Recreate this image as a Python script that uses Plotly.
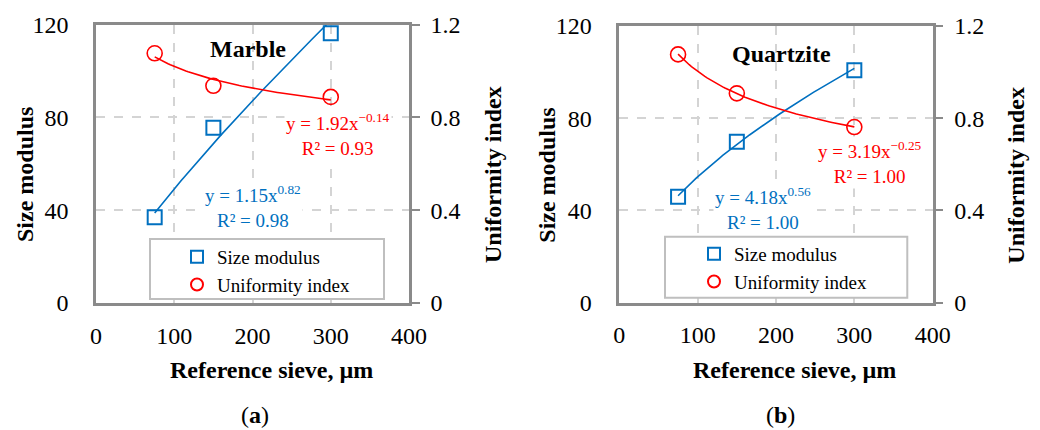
import numpy as np
import plotly.graph_objects as go

# ---------------- data ----------------
sieve = [75, 150, 300]
marble_size_modulus = [37.0, 75.5, 116.2]
marble_uniformity = [1.076, 0.936, 0.888]
quartz_size_modulus = [46.0, 69.8, 100.8]
quartz_uniformity = [1.077, 0.908, 0.762]

x_ticks = [0, 100, 200, 300, 400]
left_ticks = [0, 40, 80, 120]
right_ticks = [0, 0.4, 0.8, 1.2]

panel_titles = ["Marble", "Quartzite"]
panel_labels = ["(<b>a</b>)", "(<b>b</b>)"]
eq_marble_size = "y = 1.15x<sup>0.82</sup><br>R² = 0.98"
eq_marble_unif = "y = 1.92x<sup>−0.14</sup><br>R² = 0.93"
eq_quartz_size = "y = 4.18x<sup>0.56</sup><br>R² = 1.00"
eq_quartz_unif = "y = 3.19x<sup>−0.25</sup><br>R² = 1.00"

BLUE = "#0070C0"
RED = "#FF0000"
FRAME = "#8a8a8a"
GRID = "#d4d4d4"
FONT = "Liberation Serif"


def power_fit(x, y):
    lx, ly = np.log(x), np.log(y)
    b, a = np.polyfit(lx, ly, 1)
    xs = np.linspace(min(x), max(x), 80)
    return xs, np.exp(a) * xs ** b


fig = go.Figure()

panels = [
    dict(xa="x", ya="y", ya2="y2", sm=marble_size_modulus, ui=marble_uniformity, leg="legend"),
    dict(xa="x2", ya="y3", ya2="y4", sm=quartz_size_modulus, ui=quartz_uniformity, leg="legend2"),
]

for p in panels:
    xs, ys = power_fit(sieve, p["sm"])
    fig.add_trace(go.Scatter(x=xs, y=ys, mode="lines", line=dict(color=BLUE, width=1.6),
                             xaxis=p["xa"], yaxis=p["ya"], showlegend=False, hoverinfo="skip"))
    xs, ys = power_fit(sieve, p["ui"])
    fig.add_trace(go.Scatter(x=xs, y=ys, mode="lines", line=dict(color=RED, width=1.6),
                             xaxis=p["xa"], yaxis=p["ya2"], showlegend=False, hoverinfo="skip"))
    fig.add_trace(go.Scatter(x=sieve, y=p["sm"], mode="markers", name="Size modulus",
                             marker=dict(symbol="square-open", size=14, color=BLUE, line=dict(width=2, color=BLUE)),
                             xaxis=p["xa"], yaxis=p["ya"], legend=p["leg"]))
    fig.add_trace(go.Scatter(x=sieve, y=p["ui"], mode="markers", name="Uniformity index",
                             marker=dict(symbol="circle-open", size=15, color=RED, line=dict(width=1.6, color=RED)),
                             xaxis=p["xa"], yaxis=p["ya2"], legend=p["leg"]))

tickfont = dict(family=FONT, size=24, color="black")

def xaxis_cfg(domain, anchor):
    return dict(domain=domain, anchor=anchor, range=[0, 400], tickvals=x_ticks,
                showgrid=True, gridcolor=GRID, griddash="dash", gridwidth=1.5,
                zeroline=False, showline=True, linecolor=FRAME, linewidth=2.5, mirror=True,
                ticks="", tickfont=tickfont, ticklabelstandoff=9, fixedrange=True, automargin=False)

def yaxis_cfg(domain, anchor):
    return dict(domain=domain, anchor=anchor, range=[0, 120], tickvals=left_ticks,
                showgrid=True, gridcolor=GRID, griddash="dash", gridwidth=1.5,
                zeroline=False, showline=True, linecolor=FRAME, linewidth=2.5,
                ticks="", tickfont=tickfont, ticklabelstandoff=20, fixedrange=True, automargin=False)

def yaxis2_cfg(overlay, anchor):
    return dict(overlaying=overlay, anchor=anchor, side="right", range=[0, 1.2], tickvals=right_ticks,
                ticktext=["0", "0.4", "0.8", "1.2"],
                showgrid=False, zeroline=False, showline=True, linecolor=FRAME, linewidth=2.5,
                ticks="outside", ticklen=8, tickwidth=2, tickcolor=FRAME,
                tickfont=tickfont, ticklabelstandoff=6, fixedrange=True, automargin=False)

legend_common = dict(font=dict(family=FONT, size=19, color="black"), bgcolor="rgba(0,0,0,0)",
                     borderwidth=0, itemsizing="constant", xanchor="left", yanchor="top",
                     tracegroupgap=0)

fig.update_layout(
    template="none",
    width=1040, height=430, margin=dict(l=0, r=0, t=0, b=0, autoexpand=False),
    paper_bgcolor="white", plot_bgcolor="white",
    font=dict(family=FONT, color="black"),
    xaxis=xaxis_cfg([0.0923, 0.3933], "y"),
    yaxis=yaxis_cfg([0.2953, 0.9430], "x"),
    yaxis2=yaxis2_cfg("y", "x"),
    xaxis2=xaxis_cfg([0.5955, 0.8968], "y3"),
    yaxis3=yaxis_cfg([0.2960, 0.9395], "x2"),
    yaxis4=yaxis2_cfg("y3", "x2"),
    legend=dict(x=177 / 1040, y=1 - 238 / 430, **legend_common),
    legend2=dict(x=694 / 1040, y=1 - 235 / 430, **legend_common),
    showlegend=True,
)

# legend boxes
fig.add_shape(type="rect", xref="x", yref="y", x0=69, x1=368, y0=1.7, y1=27.6,
              fillcolor="white", line=dict(color="#bfbfbf", width=2), layer="between")
fig.add_shape(type="rect", xref="x2", yref="y3", x0=58.3, x1=367.6, y0=2.2, y1=28.6,
              fillcolor="white", line=dict(color="#bfbfbf", width=2), layer="between")

eqfont = 19
ann = []
# panel titles
ann.append(dict(text="<b>" + panel_titles[0] + "</b>", x=193.6, y=109.5, xref="x", yref="y",
                showarrow=False, font=dict(family=FONT, size=24, color="black")))
ann.append(dict(text="<b>" + panel_titles[1] + "</b>", x=207.6, y=107.7, xref="x2", yref="y3",
                showarrow=False, font=dict(family=FONT, size=24, color="black")))
# equations
for text, x, y, xr, yr, col in [
    (eq_marble_size, 200, 41.6, "x", "y", BLUE),
    (eq_marble_unif, 308.6, 72.4, "x", "y", RED),
    (eq_quartz_size, 183, 40.9, "x2", "y3", BLUE),
    (eq_quartz_unif, 319.5, 60.6, "x2", "y3", RED),
]:
    ann.append(dict(text=text, x=x, y=y, xref=xr, yref=yr, showarrow=False, align="center",
                    bgcolor="white", font=dict(family=FONT, size=eqfont, color=col)))
# axis titles
titlefont = dict(family=FONT, size=24, color="black")
common = dict(xref="paper", yref="paper", xanchor="center", yanchor="middle", showarrow=False)
for cx in [25, 546.7]:
    ann.append(dict(text="<b>Size modulus</b>", x=cx / 1040, y=1 - 175 / 430,
                    textangle=-90, font=titlefont, **common))
for cx in [493, 1015.7]:
    ann.append(dict(text="<b>Uniformity index</b>", x=cx / 1040, y=1 - 175 / 430,
                    textangle=-90, font=titlefont, **common))
for cx in [271.5, 794.5]:
    ann.append(dict(text="<b>Reference sieve, µm</b>", x=cx / 1040, y=1 - 370 / 430,
                    font=titlefont, **common))
for cx, lab in zip([255, 780], panel_labels):
    ann.append(dict(text=lab, x=cx / 1040, y=1 - 415 / 430,
                    font=dict(family=FONT, size=24, color="black"), **common))

fig.update_layout(annotations=ann)

fig.write_html("out.html")
